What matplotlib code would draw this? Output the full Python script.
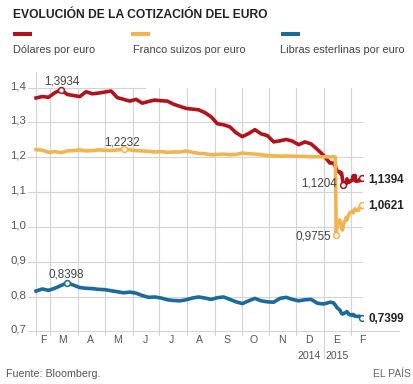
import matplotlib
matplotlib.use("Agg")
import matplotlib.pyplot as plt
import matplotlib.dates as mdates
import matplotlib.transforms as mtrans
from matplotlib.lines import Line2D
import pandas as pd
import numpy as np

# ---------------- data ----------------
weekly_dates = pd.date_range("2014-02-13", "2015-01-08", freq="7D")
daily_dates = pd.bdate_range("2015-01-09", "2015-02-13")
dates = weekly_dates.append(daily_dates)

usd_weekly = [1.370, 1.374, 1.372, 1.385, 1.3934, 1.380, 1.377, 1.374, 1.388, 1.382,
              1.384, 1.387, 1.390, 1.371, 1.366, 1.361, 1.366, 1.355, 1.360, 1.364,
              1.362, 1.361, 1.352, 1.346, 1.340, 1.338, 1.336, 1.328, 1.316, 1.296,
              1.293, 1.287, 1.270, 1.259, 1.268, 1.279, 1.267, 1.262, 1.244, 1.247,
              1.251, 1.246, 1.236, 1.244, 1.238, 1.222, 1.205, 1.183]
usd_daily = [1.184, 1.183, 1.178, 1.177, 1.166, 1.160, 1.158, 1.152, 1.155, 1.137,
             1.1204, 1.123, 1.138, 1.128, 1.132, 1.129, 1.135, 1.147, 1.135, 1.148,
             1.131, 1.132, 1.136, 1.133, 1.141, 1.1394]

chf_weekly = [1.222, 1.220, 1.214, 1.216, 1.213, 1.218, 1.219, 1.221, 1.218, 1.219,
              1.221, 1.220, 1.219, 1.221, 1.2232, 1.221, 1.219, 1.218, 1.217, 1.215,
              1.216, 1.214, 1.215, 1.215, 1.218, 1.214, 1.211, 1.210, 1.207, 1.208,
              1.209, 1.207, 1.208, 1.212, 1.210, 1.209, 1.207, 1.205, 1.204, 1.203,
              1.2035, 1.203, 1.2025, 1.202, 1.2015, 1.2015, 1.201, 1.201]
chf_daily = [1.201, 1.201, 1.201, 1.201, 0.9755, 1.005, 1.020, 1.010, 0.998, 0.991,
             1.005, 1.026, 1.020, 1.030, 1.034, 1.040, 1.045, 1.040, 1.047, 1.052,
             1.047, 1.048, 1.055, 1.058, 1.060, 1.0621]

gbp_weekly = [0.816, 0.822, 0.818, 0.824, 0.832, 0.8398, 0.833, 0.826, 0.824, 0.823,
              0.821, 0.820, 0.817, 0.814, 0.811, 0.813, 0.810, 0.803, 0.798, 0.799,
              0.796, 0.791, 0.789, 0.788, 0.791, 0.796, 0.799, 0.796, 0.792, 0.797,
              0.799, 0.792, 0.785, 0.780, 0.788, 0.795, 0.788, 0.785, 0.784, 0.795,
              0.798, 0.792, 0.788, 0.791, 0.792, 0.781, 0.779, 0.784]
gbp_daily = [0.784, 0.782, 0.779, 0.776, 0.772, 0.768, 0.762, 0.757, 0.752, 0.750,
             0.751, 0.755, 0.757, 0.754, 0.750, 0.748, 0.747, 0.749, 0.746, 0.744,
             0.744, 0.743, 0.744, 0.742, 0.741, 0.7399]

series_names = ["Dólares por euro", "Franco suizos por euro", "Libras esterlinas por euro"]
series_values = [usd_weekly + usd_daily, chf_weekly + chf_daily, gbp_weekly + gbp_daily]
colors = ["#b3121b", "#f3b450", "#1b6a9c"]

y_ticks = [0.7, 0.8, 0.9, 1.0, 1.1, 1.2, 1.3, 1.4]
y_tick_labels = ["0,7", "0,8", "0,9", "1,0", "1,1", "1,2", "1,3", "1,4"]
month_bounds = pd.date_range("2014-03-01", "2015-02-01", freq="MS")
month_label_dates = pd.to_datetime(["2014-02-21", "2014-03-15", "2014-04-15", "2014-05-15",
                                    "2014-06-15", "2014-07-15", "2014-08-15", "2014-09-15",
                                    "2014-10-15", "2014-11-15", "2014-12-15", "2015-01-15",
                                    "2015-02-13"])
month_labels = ["F", "M", "A", "M", "J", "J", "A", "S", "O", "N", "D", "E", "F"]

# ---------------- figure ----------------
W, H = 414, 384
fig = plt.figure(figsize=(W / 100, H / 100), dpi=100)
plt.rcParams["font.family"] = ["Liberation Sans", "DejaVu Sans"]

def fy(py):
    return 1 - py / H

ax_left, ax_right, ax_top, ax_bot = 28, 363, 72, 335.5
ax = fig.add_axes([ax_left / W, fy(ax_bot), (ax_right - ax_left) / W, (ax_bot - ax_top) / H])
for s in ax.spines.values():
    s.set_visible(False)
ax.set_xticks([])
ax.set_yticks([])

x0 = pd.Timestamp("2014-02-13")
x_start = mdates.date2num(pd.Timestamp("2014-02-04"))
x_end = mdates.date2num(pd.Timestamp("2015-02-14"))
ax.set_xlim(x_start, x_end)
y_lo, y_hi = 0.6885, 1.4445
ax.set_ylim(y_lo, y_hi)

grid_c = "#d4d4d4"
# horizontal gridlines
for v in y_ticks:
    if v == 1.4:
        ax.plot([x_start, mdates.date2num(pd.Timestamp("2014-06-15"))], [v, v],
                color=grid_c, lw=0.8, zorder=1)
    elif v == 0.7:
        ax.plot([x_start, x_end + 40], [v, v], color=grid_c, lw=0.8, zorder=1, clip_on=False)
    else:
        ax.plot([x_start, x_end], [v, v], color=grid_c, lw=0.8, zorder=1)
# left line
ax.plot([mdates.date2num(x0)] * 2, [y_lo, y_hi], color=grid_c, lw=0.8, zorder=1)
# month boundaries
for d in month_bounds:
    xd = mdates.date2num(d)
    if d == pd.Timestamp("2015-01-01"):
        ax.plot([xd, xd], [0.624, 1.4], color=grid_c, lw=0.8, zorder=1, clip_on=False)
    else:
        ax.plot([xd, xd], [y_lo, 1.4], color=grid_c, lw=0.8, zorder=1)

# y labels
for v, lab in zip(y_ticks, y_tick_labels):
    ax.annotate(lab, xy=(0, v), xycoords=("axes fraction", "data"), xytext=(-2, 1.5),
                textcoords="offset pixels", ha="right", va="center", fontsize=8.2,
                color="#555555")

# month labels
bt = mtrans.blended_transform_factory(ax.transData, fig.transFigure)
for d, lab in zip(month_label_dates, month_labels):
    ax.text(mdates.date2num(d), fy(342.7), lab, transform=bt, ha="center", va="baseline",
            fontsize=7.6, color="#555555")
xj = mdates.date2num(pd.Timestamp("2015-01-01"))
ax.annotate("2014", xy=(xj, fy(359.3)), xycoords=bt, xytext=(-3, 0), textcoords="offset pixels",
            ha="right", va="baseline", fontsize=7.6, color="#555555")
ax.annotate("2015", xy=(xj, fy(359.3)), xycoords=bt, xytext=(2, 0), textcoords="offset pixels",
            ha="left", va="baseline", fontsize=7.6, color="#555555")

# lines
xs = mdates.date2num(dates)
for vals, c in zip(series_values, colors):
    ax.plot(xs, vals, color=c, lw=2.6, zorder=3, solid_joinstyle="round")

def marker(i, vals, c):
    ax.plot(xs[i], vals[i], "o", ms=4.2, mfc="white", mec=c, mew=1.1, zorder=4)

def fmt(v):
    return f"{v:.4f}".replace(".", ",")

usd, chf, gbp = series_values
ann = [
    (usd, int(np.argmax(usd)), (1, 5), "center", colors[0]),
    (usd, int(np.argmin(usd)), (-6, -1.5), "right", colors[0]),
    (chf, int(np.argmax(chf)), (-2, 4), "center", colors[1]),
    (chf, int(np.argmin(chf)), (-5.5, -4.3), "right", colors[1]),
    (gbp, int(np.argmax(gbp)), (-1, 5), "center", colors[2]),
]
for vals, i, off, ha, c in ann:
    marker(i, vals, c)
    ax.annotate(fmt(vals[i]), xy=(xs[i], vals[i]), xytext=off, textcoords="offset pixels",
                ha=ha, va="baseline", fontsize=8.4, color="#444444", zorder=5)

end_offsets = [-4.3, -3.8, -4.5]
for vals, c, oy in zip(series_values, colors, end_offsets):
    marker(-1, vals, c)
    ax.annotate(fmt(vals[-1]), xy=(xs[-1], vals[-1]), xytext=(6, oy), textcoords="offset pixels",
                ha="left", va="baseline", fontsize=8.4, fontweight="bold", color="#222222",
                annotation_clip=False)

# title
fig.text(13.3 / W, fy(18.3), "EVOLUCIÓN DE LA COTIZACIÓN DEL EURO", ha="left", va="baseline",
         fontsize=8.7, fontweight="bold", color="#222222")

# legend
leg_x = [(13, 32, 13.3), (131, 150, 133), (281, 300, 280)]
for (a, b, tx), c, name in zip(leg_x, colors, series_names):
    fig.add_artist(Line2D([a / W, b / W], [fy(33.5), fy(33.5)], transform=fig.transFigure,
                          color=c, lw=2.9, solid_capstyle="butt"))
    fig.text(tx / W, fy(53.3), name, ha="left", va="baseline", fontsize=7.9, color="#444444")

# footer
fig.text(6 / W, fy(376.6), "Fuente: Bloomberg.", ha="left", va="baseline", fontsize=7.7,
         color="#555555")
fig.text(410.7 / W, fy(376.6), "EL PAÍS", ha="right", va="baseline", fontsize=7.5,
         color="#666666")

fig.savefig("out.png", dpi=100)
